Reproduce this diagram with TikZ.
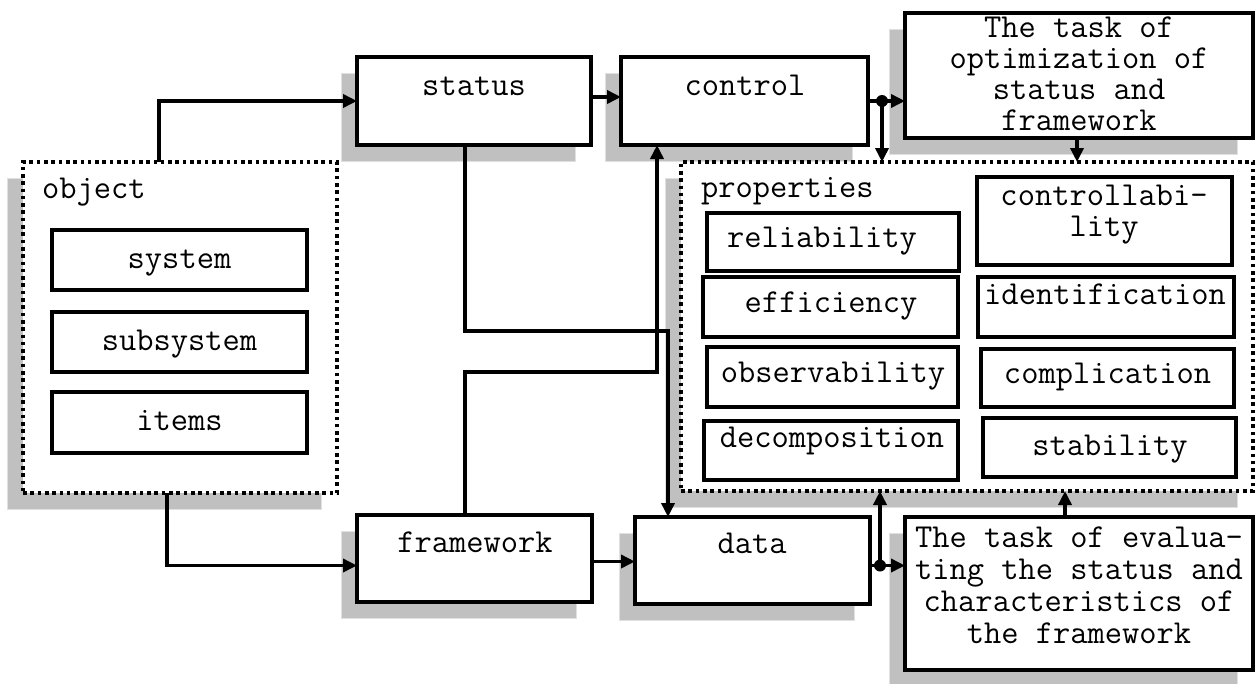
\documentclass[tikz,border=0pt]{standalone}
\usetikzlibrary{arrows.meta,fit,calc}
\definecolor{shadowfill}{RGB}{192,192,192}
\definecolor{shadowedge}{RGB}{224,224,224}
\pgfdeclarelayer{paper}
\pgfdeclarelayer{shade}
\pgfsetlayers{paper,shade,main}
\newcommand{\labelfont}{\ttfamily\fontsize{33.5}{31}\selectfont}
\tikzset{
  frame/.style={draw=black, line width=4pt, fill=white, inner sep=0pt, outer sep=0pt},
  group/.style={draw=black, line width=3.5pt, dash pattern=on 3.6pt off 3.7pt, fill=white, inner sep=0pt, outer sep=0pt},
  item/.style={draw=black, line width=4.5pt, fill=white, inner sep=0pt, outer sep=0pt},
  lbl/.style={font=\labelfont, inner sep=0pt, anchor=base},
  conn/.style={line width=3.5pt, draw=black},
  arr/.style={conn, -{Triangle[length=14pt,width=13pt]}},
  shadowbox/.style={fill=shadowfill, draw=shadowedge, line width=1pt},
  junction/.style={fill=black, circle, inner sep=0pt, minimum size=12pt}
}
% box with a drop shadow: style, name, x1, y1, x2, y2
\newcommand{\panel}[6]{%
  \begin{pgfonlayer}{shade}
    \filldraw[shadowbox] (#3-16,#4+16) rectangle (#5-16,#6+16);
  \end{pgfonlayer}
  \node[#1, fit={(#3,#4) (#5,#6)}] (#2) {};
}
\begin{document}
\begin{tikzpicture}[x=1pt,y=-1pt]
\begin{pgfonlayer}{paper}
  \fill[white] (0,0) rectangle (1255,683);
\end{pgfonlayer}
\useasboundingbox (0,0) rectangle (1255,683);

% main blocks
\panel{group}{object}{23}{162}{337}{493}
\panel{frame}{status}{357}{57}{591}{145}
\panel{frame}{control}{621}{57}{868}{145}
\panel{frame}{task1}{905}{13}{1253}{138}
\panel{group}{properties}{681}{162}{1253}{491}
\panel{frame}{framework}{357}{515}{592}{602}
\panel{frame}{data}{635}{517}{870}{604}
\panel{frame}{task2}{905}{517}{1253}{670}

% parts of the object
\node[item, fit={(52,230) (307,290)}] (system) {};
\node[item, fit={(52,312) (307,372)}] (subsystem) {};
\node[item, fit={(52,392) (307,453)}] (items) {};

% properties, left column
\node[item, fit={(707,213) (959,271)}] (reliability) {};
\node[item, fit={(703,277) (958,337)}] (efficiency) {};
\node[item, fit={(707,347) (958,407)}] (observability) {};
\node[item, fit={(704,421) (958,480)}] (decomposition) {};
% properties, right column
\node[item, fit={(977,177) (1232,265)}] (controllability) {};
\node[item, fit={(978,277) (1234,337)}] (identification) {};
\node[item, fit={(981,349) (1234,407)}] (complication) {};
\node[item, fit={(983,418) (1236,477)}] (stability) {};

% labels
\node[lbl, anchor=base west] (object-t) at (42,198) {object};
\node[lbl] (system-t) at (179.5,268) {system};
\node[lbl] (subsystem-t) at (179.5,350) {subsystem};
\node[lbl] (items-t) at (179.5,430) {items};
\node[lbl] (status-t) at (474,95) {status};
\node[lbl] (control-t) at (745,95) {control};
\node[lbl] (framework-t) at (475,552) {framework};
\node[lbl] (data-t) at (752,553) {data};
\node[lbl, anchor=base west] (properties-t) at (701,197) {properties};
\node[lbl] (reliability-t) at (822,247) {reliability};
\node[lbl] (efficiency-t) at (831,312) {efficiency};
\node[lbl] (observability-t) at (833,382) {observability};
\node[lbl] (decomposition-t) at (832,447) {decomposition};
\node[lbl, anchor=north, align=center] (controllability-t) at (1104,185) {controllabi-\\lity};
\node[lbl] (identification-t) at (1105,304) {identification};
\node[lbl] (complication-t) at (1107.5,383) {complication};
\node[lbl] (stability-t) at (1110,455) {stability};
\node[lbl, anchor=north, align=center]
  (task1-t) at (1079,17) {The task of\\optimization of\\status and\\framework};
\node[lbl, anchor=north, align=center]
  (task2-t) at (1079,527) {The task of evalua-\\[1pt]ting the status and\\[1pt]characteristics of\\[1pt]the framework};

% connectors
\draw[arr] ([xshift=-21pt]object.north) |- (status.west);
\draw[arr] ([xshift=-13pt]object.south) |- ([yshift=-7pt]framework.west);
\draw[arr] ([yshift=4pt]status.east) -- ([yshift=4pt]control.west);

\coordinate (cj) at ([xshift=14pt]control.east);
\draw[arr] (control.east) -- (cj -| task1.west);
\draw[arr] (cj) -- (cj |- properties.north);
\node[junction] (cdot) at (cj) {};

\draw[arr] ([xshift=-2pt]task1.south) -- ([xshift=-2pt]task1.south |- properties.north);

\coordinate (sb) at (668,331);
\draw[arr] ([xshift=-9pt]status.south) |- (sb) -- (sb |- data.north);

\coordinate (fb) at (657,372);
\draw[arr] ([xshift=-9.5pt]framework.north) |- (fb) -- (fb |- control.south);

\draw[arr] ([yshift=-3pt]framework.east) -- ([yshift=-3pt]framework.east -| data.west);

\coordinate (dj) at ([xshift=10pt,yshift=-5pt]data.east);
\draw[arr] (data.east |- dj) -- (dj -| task2.west);
\draw[arr] (dj) -- (dj |- properties.south);
\node[junction] (ddot) at (dj) {};

\draw[arr] ([xshift=-14pt]task2.north) -- ([xshift=-14pt]task2.north |- properties.south);
\end{tikzpicture}
\end{document}
